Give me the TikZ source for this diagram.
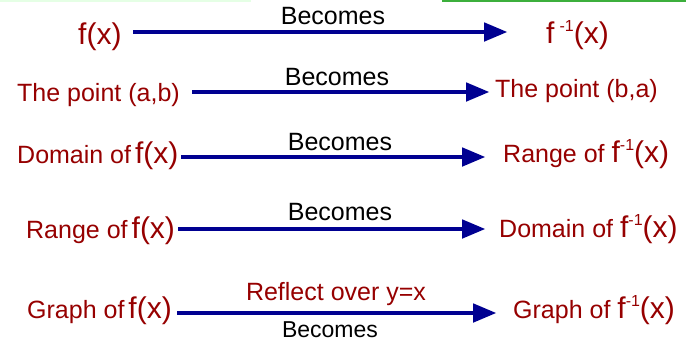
\documentclass[tikz,border=0pt]{standalone}
\usepackage{fontspec}
\setmainfont{Liberation Sans}
\usetikzlibrary{arrows}
\definecolor{wordred}{RGB}{150,0,0}
\definecolor{arrowblue}{RGB}{0,0,145}
\definecolor{topgreen}{RGB}{60,175,60}
\newcommand{\fx}{{\fontsize{30}{36}\selectfont f(x)}}
\newcommand{\finv}[1][]{{\fontsize{30}{36}\selectfont f#1\raisebox{12pt}{\fontsize{16}{16}\selectfont -1}(x)}}
\newcommand{\side}[4]{\node[side](#1) at (#3,#4) {#2};}
\newcommand{\becomes}[4]{\coordinate(#1s) at (#2,#4);\coordinate(#1e) at (#3,#4);\draw[link] (#1s) -- (#1e);}

\begin{document}
\begin{tikzpicture}[x=1pt,y=-1pt,
	side/.style={anchor=base west,inner sep=0pt,text=wordred,font=\fontsize{25}{30}\selectfont},
	word/.style={anchor=base,inner sep=0pt,font=\fontsize{25}{30}\selectfont},
	link/.style={draw=arrowblue,line width=4.5pt,line join=round,arrows={-triangle 45}}]
	\useasboundingbox (0,0) rectangle (686,343);
	\draw[green!10,line width=1.5pt] (0,0.8) -- (251,0.8);
	\draw[topgreen,line width=2pt] (442,1) -- (686,1);

	% f and its inverse
	\side{fun}{\fx}{78}{44}
	\side{inv}{\finv[\,]}{546}{43}
	\becomes{row1}{133}{507}{32}
	\node[word](bec1) at (333,24) {Becomes};

	% points
	\side{pab}{The point (a,b)}{17}{101}
	\side{pba}{The point (b,a)}{495}{97}
	\becomes{row2}{192}{489}{92}
	\node[word](bec2) at (337,85) {Becomes};

	% domain goes to range
	\side{domf}{Domain of\hspace{4pt}\fx}{17}{163}
	\side{raninv}{Range of \finv}{503}{162}
	\becomes{row3}{181}{485}{157}
	\node[word](bec3) at (340,150) {Becomes};

	% range goes to domain
	\side{ranf}{Range of\hspace{4pt}\fx}{26}{238}
	\side{dominv}{Domain of \finv}{499}{237}
	\becomes{row4}{178}{485}{229}
	\node[word](bec4) at (340,220) {Becomes};

	% graphs
	\side{grf}{Graph of\hspace{4pt}\fx}{27}{318}
	\side{grinv}{Graph of \finv}{513}{318}
	\becomes{row5}{177}{496}{313}
	\node[word,text=wordred](refl) at (336,300) {Reflect over y=x};
	\node[word,font=\fontsize{23}{28}\selectfont](bec5) at (330,337) {Becomes};
\end{tikzpicture}
\end{document}
